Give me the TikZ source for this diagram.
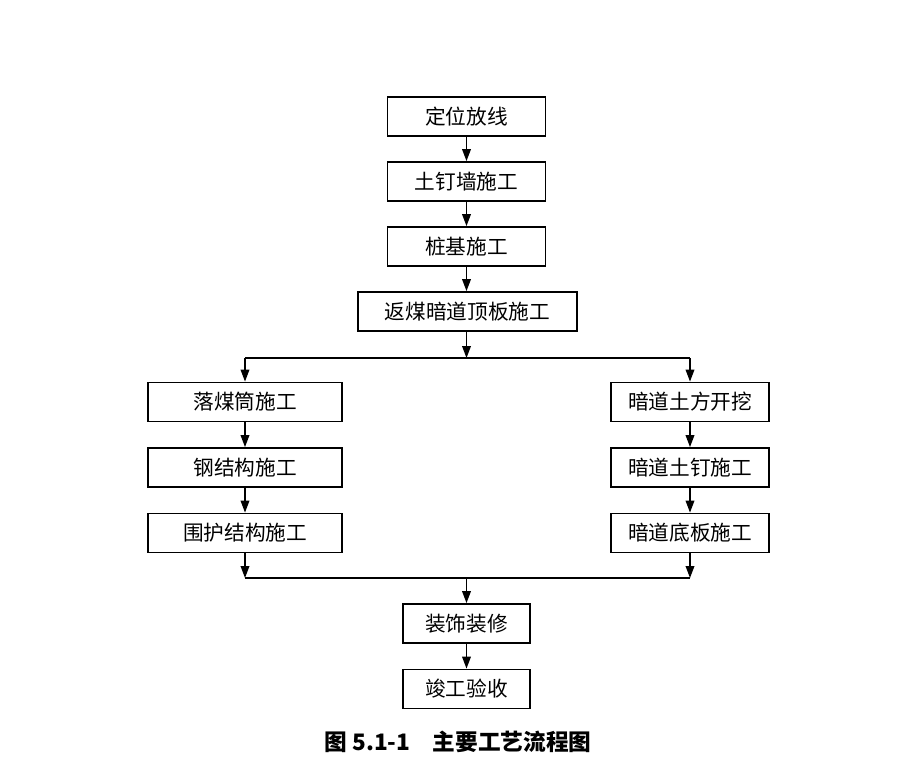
\documentclass[tikz,border=0pt]{standalone}
\usepackage{fontspec}
\newfontfamily\cjk{Noto Sans CJK SC}
\usetikzlibrary{arrows.meta,positioning}
\begin{document}
\begin{tikzpicture}[x=0.75pt,y=-0.75pt,
  box/.style={draw,line width=1.1pt,minimum height=29.5pt,inner sep=0pt,font=\cjk\fontsize{15.5}{15.5}\selectfont},
  arr/.style={line width=1.1pt,-{Triangle[length=9pt,width=6.5pt]}},
  ln/.style={line width=1.1pt}]
\useasboundingbox (0,0) rectangle (918,768);
\node[box,minimum width=118.5pt] (a1) at (466.5,116.5) {定位放线};
\node[box,minimum width=118.5pt] (a2) at (466.5,181.5) {土钉墙施工};
\node[box,minimum width=118.5pt] (a3) at (466.5,246.5) {桩基施工};
\node[box,minimum width=164pt] (a4) at (467.5,311.5) {返煤暗道顶板施工};
\node[box,minimum width=145.5pt] (l1) at (245,402) {落煤筒施工};
\node[box,minimum width=145.5pt] (l2) at (245,467.5) {钢结构施工};
\node[box,minimum width=145.5pt] (l3) at (245,533) {围护结构施工};
\node[box,minimum width=118.5pt] (r1) at (690,402) {暗道土方开挖};
\node[box,minimum width=118.5pt] (r2) at (690,467.5) {暗道土钉施工};
\node[box,minimum width=118.5pt] (r3) at (690,533) {暗道底板施工};
\node[box,minimum width=95pt] (f1) at (466.5,623.5) {装饰装修};
\node[box,minimum width=95pt] (f2) at (466.5,689) {竣工验收};
\node[font=\cjk\bfseries\fontsize{17}{17}\selectfont] (cap) at (458,742) {图 5.1-1\hspace{1em}主要工艺流程图};
\coordinate (tl) at (245,358);
\coordinate (tr) at (690,358);
\coordinate (bl) at (245,578);
\coordinate (bw) at (690,578);
\draw[arr] (a1) -- (a2);
\draw[arr] (a2) -- (a3);
\draw[arr] (a3.south) -- (a4.north -| a3.south);
\draw[arr] (a4.south -| a3.south) -- (tl -| a3.south);
\draw[ln] (tl) -- (tr);
\draw[arr] (tl) -- (l1.north);
\draw[arr] (tr) -- (r1.north);
\draw[arr] (l1) -- (l2);
\draw[arr] (l2) -- (l3);
\draw[arr] (r1) -- (r2);
\draw[arr] (r2) -- (r3);
\draw[arr] (l3.south) -- (bl);
\draw[arr] (r3.south) -- (bw);
\draw[ln] (bl) -- (bw);
\draw[arr] (bl -| f1.north) -- (f1.north);
\draw[arr] (f1) -- (f2);
\end{tikzpicture}
\end{document}
